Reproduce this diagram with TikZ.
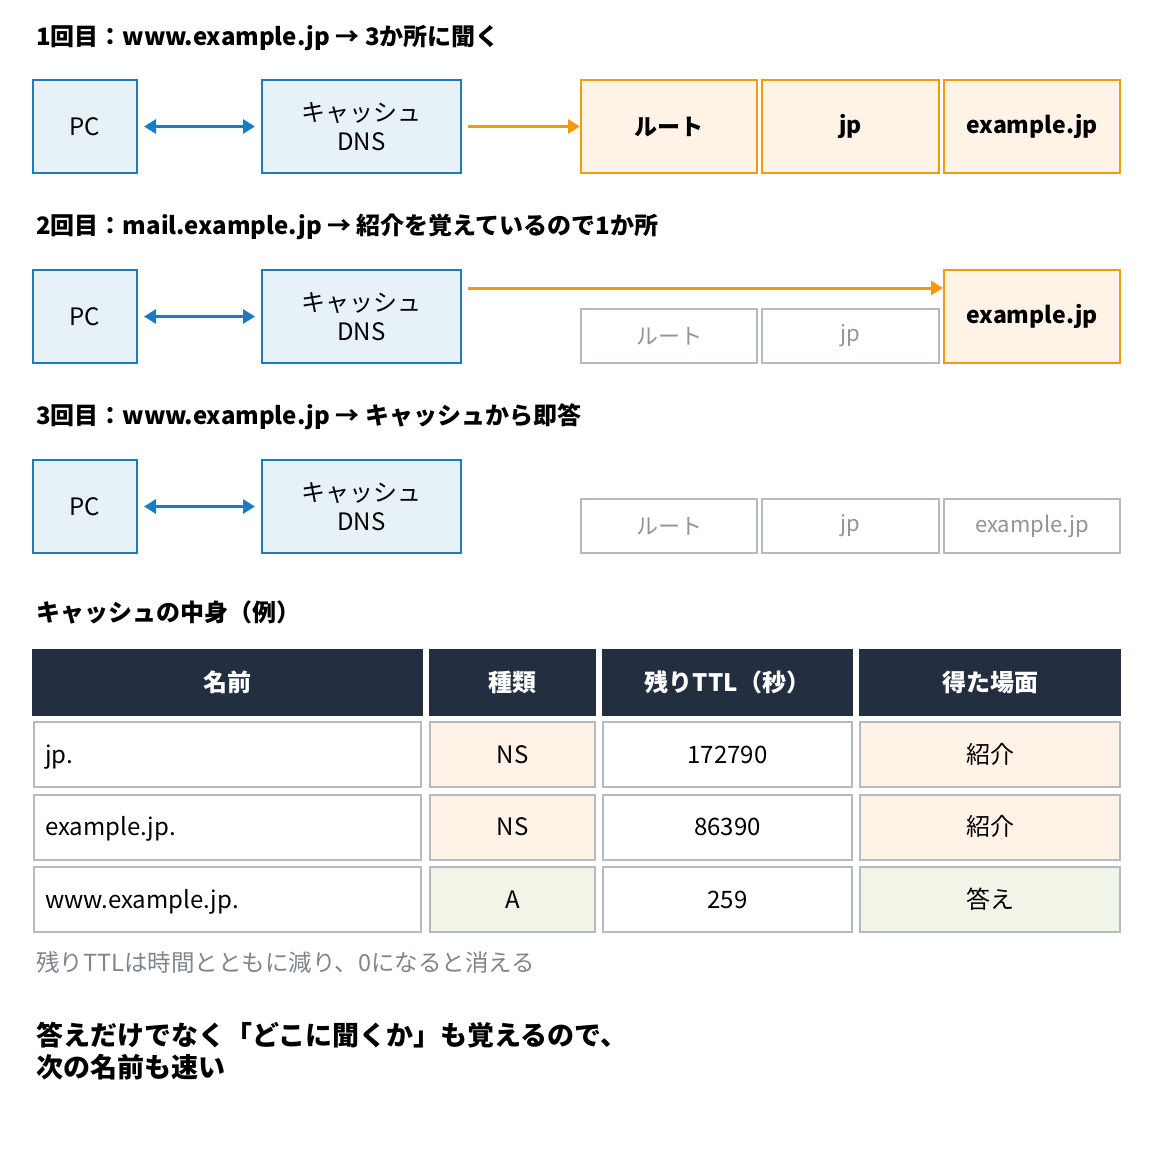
\documentclass[tikz,border=0pt]{standalone}
\usepackage{fontspec}
\setmainfont{Noto Sans CJK JP}
\usepackage{xcolor}
\usetikzlibrary{arrows.meta}

\definecolor{hostLine}{HTML}{1B7DBF}
\definecolor{hostFill}{HTML}{E6F1F8}
\definecolor{zoneLine}{HTML}{F59A0C}
\definecolor{zoneFill}{HTML}{FEF3E6}
\definecolor{idleLine}{HTML}{B4BAC2}
\definecolor{idleText}{HTML}{8F959D}
\definecolor{headFill}{HTML}{232E40}
\definecolor{answerFill}{HTML}{F0F5E8}
\definecolor{noteText}{HTML}{7F858D}

\begin{document}
\begin{tikzpicture}[
        x=1pt, y=1pt,
        host/.style={rectangle, draw=hostLine, fill=hostFill, line width=2pt, minimum width=104pt, minimum height=93pt, text centered, font=\fontsize{24}{29}\selectfont, align=center},
        cachedns/.style={host, minimum width=199pt},
        zone/.style={rectangle, draw=zoneLine, fill=zoneFill, line width=2pt, minimum width=176pt, minimum height=93pt, text centered, font=\fontsize{23}{28}\selectfont\bfseries},
        idle/.style={rectangle, draw=idleLine, fill=white, line width=2pt, minimum width=176pt, minimum height=54pt, text centered, text=idleText, font=\fontsize{22}{26}\selectfont},
        heading/.style={anchor=west, inner sep=0pt, font=\fontsize{24}{29}\selectfont\bfseries},
        headcell/.style={rectangle, fill=headFill, minimum height=67pt, text=white, font=\fontsize{24}{29}\selectfont\bfseries},
        cell/.style={rectangle, draw=idleLine, line width=2pt, minimum height=65pt, text height=20pt, text depth=3pt, font=\fontsize{24}{29}\selectfont},
        namecell/.style={cell, text width=365pt, inner xsep=11pt, align=left},
        query/.style={{Triangle[length=12pt,width=14pt]}-{Triangle[length=12pt,width=14pt]}, line width=3pt, hostLine, shorten <=6pt, shorten >=6pt},
        fetch/.style={-{Triangle[length=12pt,width=14pt]}, line width=3pt, zoneLine, shorten <=6pt}
    ]
        \useasboundingbox (0,0) rectangle (1153,-1149);

        % ========== 1ST QUERY ==========
        \node[heading] (titleOne) at (36,-38) {1回目：www.example.jp → 3か所に聞く};
        \node[host] (pc1) at (85,-126.5) {PC};
        \node[cachedns] (cacheDNS1) at (361.5,-126.5) {キャッシュ\\DNS};
        \node[zone] (root1) at (669,-126.5) {ルート};
        \node[zone, minimum width=177pt] (jp1) at (850.5,-126.5) {jp};
        \node[zone] (exampleJP1) at (1032,-126.5) {example.jp};
        \draw[query] (pc1.east) -- (cacheDNS1.west);
        \draw[fetch] (cacheDNS1.east) -- (root1.west);

        % ========== 2ND QUERY ==========
        \node[heading] (titleTwo) at (36,-227) {2回目：mail.example.jp → 紹介を覚えているので1か所};
        \node[host] (pc2) at (85,-316.5) {PC};
        \node[cachedns] (cacheDNS2) at (361.5,-316.5) {キャッシュ\\DNS};
        \node[idle] (root2) at (669,-336) {ルート};
        \node[idle, minimum width=177pt] (jp2) at (850.5,-336) {jp};
        \node[zone] (exampleJP2) at (1032,-316.5) {example.jp};
        \draw[query] (pc2.east) -- (cacheDNS2.west);
        % referral is remembered: skip straight past root and jp
        \draw[fetch] ([yshift=28.5pt]cacheDNS2.east) -- ([yshift=28.5pt]cacheDNS2.east -| exampleJP2.west);

        % ========== 3RD QUERY ==========
        \node[heading] (titleThree) at (36,-417) {3回目：www.example.jp → キャッシュから即答};
        \node[host] (pc3) at (85,-506.5) {PC};
        \node[cachedns] (cacheDNS3) at (361.5,-506.5) {キャッシュ\\DNS};
        \node[idle] (root3) at (669,-526) {ルート};
        \node[idle, minimum width=177pt] (jp3) at (850.5,-526) {jp};
        \node[idle] (exampleJP3) at (1032,-526) {example.jp};
        \draw[query] (pc3.east) -- (cacheDNS3.west);

        % ========== CACHE TABLE ==========
        \node[heading] (tableTitle) at (36,-612) {キャッシュの中身（例）};

        \node[headcell, minimum width=391pt] (headName) at (227.5,-682.5) {名前};
        \node[headcell, minimum width=167pt] (headType) at (512.5,-682.5) {種類};
        \node[headcell, minimum width=251pt] (headTTL) at (727.5,-682.5) {残りTTL（秒）};
        \node[headcell, minimum width=262pt] (headFrom) at (990,-682.5) {得た場面};

        \node[namecell] (nameJP) at (227.5,-754.5) {jp.};
        \node[cell, fill=zoneFill, minimum width=165pt] (typeJP) at (512.5,-754.5) {NS};
        \node[cell, minimum width=249pt] (ttlJP) at (727.5,-754.5) {172790};
        \node[cell, fill=zoneFill, minimum width=260pt] (fromJP) at (990,-754.5) {紹介};

        \node[namecell] (nameExample) at (227.5,-827) {example.jp.};
        \node[cell, fill=zoneFill, minimum width=165pt] (typeExample) at (512.5,-827) {NS};
        \node[cell, minimum width=249pt] (ttlExample) at (727.5,-827) {86390};
        \node[cell, fill=zoneFill, minimum width=260pt] (fromExample) at (990,-827) {紹介};

        \node[namecell] (nameWWW) at (227.5,-899.5) {www.example.jp.};
        \node[cell, fill=answerFill, minimum width=165pt] (typeWWW) at (512.5,-899.5) {A};
        \node[cell, minimum width=249pt] (ttlWWW) at (727.5,-899.5) {259};
        \node[cell, fill=answerFill, minimum width=260pt] (fromWWW) at (990,-899.5) {答え};

        % ========== NOTES ==========
        \node[anchor=west, inner sep=0pt, text=noteText, font=\fontsize{23.5}{28}\selectfont] (ttlNote) at (36,-962) {残りTTLは時間とともに減り、0になると消える};
        \node[anchor=north west, inner sep=0pt, align=left, font=\fontsize{27}{32}\selectfont\bfseries] (summary) at (36,-1022) {答えだけでなく「どこに聞くか」も覚えるので、\\次の名前も速い};

    \end{tikzpicture}
\end{document}
